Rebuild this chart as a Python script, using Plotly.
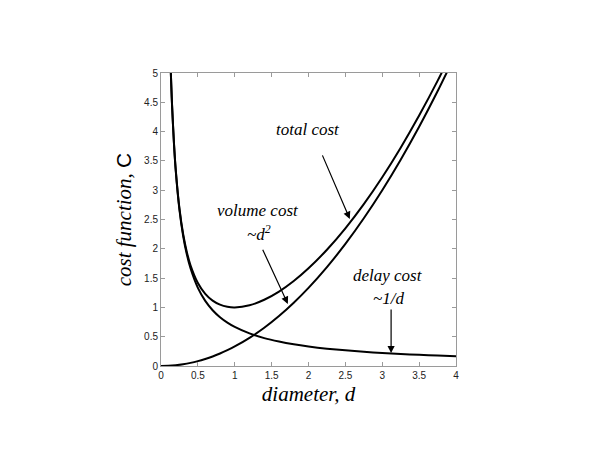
import plotly.graph_objects as go

# diameters
d_vals = [0.12, 0.13, 0.14, 0.15, 0.175, 0.2, 0.25, 0.3, 0.35, 0.4, 0.5, 0.6, 0.7, 0.8, 0.9, 1.0,
          1.2, 1.4, 1.6, 1.8, 2.0, 2.25, 2.5, 2.75, 3.0, 3.25, 3.5, 3.75, 4.0]
delay_cost = [5.556, 5.128, 4.762, 4.444, 3.810, 3.333, 2.667, 2.222, 1.905, 1.667, 1.333, 1.111,
              0.952, 0.833, 0.741, 0.667, 0.556, 0.476, 0.417, 0.370, 0.333, 0.296, 0.267,
              0.242, 0.222, 0.205, 0.190, 0.178, 0.167]
total_cost = [5.560, 5.134, 4.769, 4.452, 3.820, 3.347, 2.688, 2.252, 1.946, 1.720, 1.417, 1.231,
              1.116, 1.047, 1.011, 1.000, 1.036, 1.130, 1.270, 1.450, 1.667, 1.984, 2.350,
              2.763, 3.222, 3.726, 4.274, 4.865, 5.500]
d_vol = [0.0, 0.1, 0.2, 0.3, 0.4, 0.5, 0.6, 0.7, 0.8, 0.9, 1.0, 1.2, 1.4, 1.6, 1.8, 2.0,
         2.25, 2.5, 2.75, 3.0, 3.25, 3.5, 3.75, 4.0]
volume_cost = [0.0, 0.003, 0.013, 0.030, 0.053, 0.083, 0.120, 0.163, 0.213, 0.270, 0.333, 0.480,
               0.653, 0.853, 1.080, 1.333, 1.688, 2.083, 2.521, 3.000, 3.521, 4.083, 4.688, 5.333]

x_ticks = [0, 0.5, 1, 1.5, 2, 2.5, 3, 3.5, 4]
x_tick_text = ["0", "0.5", "1", "1.5", "2", "2.5", "3", "3.5", "4"]
y_ticks = [0, 0.5, 1, 1.5, 2, 2.5, 3, 3.5, 4, 4.5, 5]
y_tick_text = ["0", "0.5", "1", "1.5", "2", "2.5", "3", "3.5", "4", "4.5", "5"]

line = dict(color="black", width=2, shape="spline", smoothing=0.8)
fig = go.Figure()
fig.add_trace(go.Scatter(x=d_vals, y=delay_cost, mode="lines", line=line, cliponaxis=True))
fig.add_trace(go.Scatter(x=d_vals, y=total_cost, mode="lines", line=line, cliponaxis=True))
fig.add_trace(go.Scatter(x=d_vol, y=volume_cost, mode="lines", line=line, cliponaxis=True))

serif = "Liberation Serif, Times New Roman, serif"
sans = "Liberation Sans, Arial, sans-serif"

axis_common = dict(
    showgrid=False, zeroline=False, showline=True, linecolor="#9a9a9a", linewidth=1,
    mirror="ticks", ticks="inside", ticklen=4, tickcolor="#9a9a9a",
    tickfont=dict(family=sans, size=10, color="#222"),
)

fig.update_layout(
    width=600, height=450,
    paper_bgcolor="white", plot_bgcolor="white",
    margin=dict(l=153, r=152, t=65, b=92),
    showlegend=False,
    xaxis=dict(range=[0, 4], tickvals=x_ticks, ticktext=x_tick_text,
               title=dict(text="<i>diameter, d</i>", font=dict(family=serif, size=21, color="black"), standoff=6),
               **axis_common),
    yaxis=dict(range=[0, 5], tickvals=y_ticks, ticktext=y_tick_text,
               title=dict(text="<i>cost function, </i><span style=\"font-family:'Liberation Sans',Arial,sans-serif\">C</span>",
                          font=dict(family=serif, size=21, color="black"), standoff=6),
               **axis_common),
)

afont = dict(family=serif, size=17, color="black")
texts = [
    ("<i>total cost</i>", 1.99, 4.04),
    ("<i>volume cost</i>", 1.32, 2.66),
    ("<i>~d<sup>2</sup></i>", 1.33, 2.27),
    ("<i>delay cost</i>", 3.08, 1.54),
    ("<i>~1/d</i>", 3.08, 1.16),
]
for t, x, y in texts:
    fig.add_annotation(text=t, x=x, y=y, xref="x", yref="y", showarrow=False, font=afont)

arrows = [
    (2.18, 3.62, 2.56, 2.51),
    (1.37, 2.01, 1.72, 1.06),
    (3.12, 0.99, 3.12, 0.22),
]
for x0, y0, x1, y1 in arrows:
    fig.add_annotation(x=x1, y=y1, ax=x0, ay=y0, xref="x", yref="y", axref="x", ayref="y",
                       text="", showarrow=True, arrowhead=2, arrowsize=1.2, arrowwidth=1.2,
                       arrowcolor="black")

fig.write_html("out.html")
